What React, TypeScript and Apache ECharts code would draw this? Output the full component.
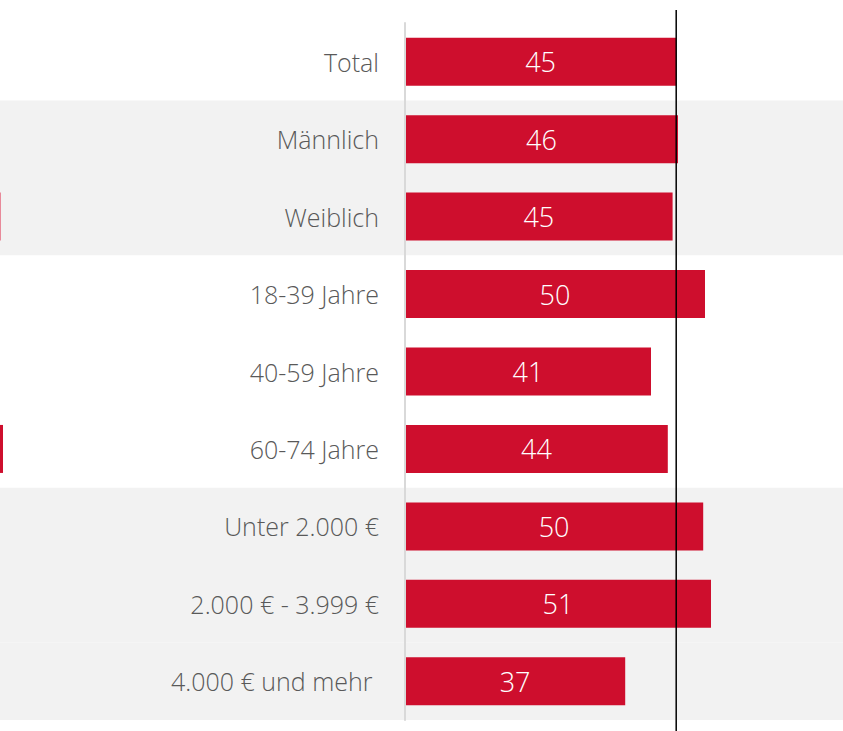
import React, { useEffect, useRef } from "react";
import * as echarts from "echarts";

const categories = [
  "Total",
  "Männlich",
  "Weiblich",
  "18-39 Jahre",
  "40-59 Jahre",
  "60-74 Jahre",
  "Unter 2.000 €",
  "2.000 € - 3.999 €",
  "4.000 € und mehr\u00a0",
];
const values = [45.2, 45.5, 44.6, 50.0, 41.0, 43.8, 49.7, 51.0, 36.7];
const bandFlags = [0, 1, 1, 0, 0, 0, 1, 1, 1];
const referenceValue = 45.2;
const edgeMarks = [
  { category: "Weiblich", width: 1, color: "#e88a9a" },
  { category: "60-74 Jahre", width: 3, color: "#ce0e2d" },
];

const RED = "#ce0e2d";
const FONT = "'Open Sans', 'Noto Sans', sans-serif";

export default function App() {
  const ref = useRef<HTMLDivElement>(null);
  useEffect(() => {
    if (!ref.current) return;
    const chart = echarts.init(ref.current, null, { renderer: "svg" });
    const option: any = {
      animation: false,
      grid: [
        { left: 405, right: 0, top: 23, bottom: 11, containLabel: false },
        { left: 0, right: 0, top: 23, bottom: 11, containLabel: false },
      ],
      xAxis: [
        { gridIndex: 0, type: "value", min: 0, max: 73, show: false },
        { gridIndex: 1, type: "value", min: 0, max: 1, show: false },
      ],
      yAxis: [
        {
          gridIndex: 0,
          type: "category",
          data: categories,
          inverse: true,
          z: 5,
          axisLine: { show: true, lineStyle: { color: "#d9d9d9", width: 2 } },
          axisTick: { show: false },
          axisLabel: {
            margin: 26,
            color: "#595959",
            fontSize: 25,
            fontFamily: FONT,
            fontWeight: 300,
          },
          splitLine: { show: false },
        },
        {
          gridIndex: 1,
          type: "category",
          data: categories,
          inverse: true,
          show: false,
        },
      ],
      series: [
        {
          type: "bar",
          xAxisIndex: 1,
          yAxisIndex: 1,
          data: bandFlags,
          barWidth: "100%",
          silent: true,
          z: -1,
          itemStyle: { color: "#f2f2f2" },
        },
        {
          type: "bar",
          xAxisIndex: 0,
          yAxisIndex: 0,
          data: values,
          barWidth: 48,
          z: 3,
          itemStyle: { color: RED },
          label: {
            show: true,
            position: "inside",
            color: "#ffffff",
            fontSize: 27,
            fontFamily: FONT,
            fontWeight: 300,
            formatter: (p: any) => String(Math.round(p.value)),
          },
        },
      ],
    };
    chart.setOption(option);

    const refX = chart.convertToPixel({ xAxisIndex: 0 }, referenceValue) as number;
    const graphics: any[] = [
      {
        type: "line",
        z: 10,
        shape: { x1: refX, y1: 10, x2: refX, y2: 731 },
        style: { stroke: "#000000", lineWidth: 1.5 },
      },
    ];
    edgeMarks.forEach((m) => {
      const cy = chart.convertToPixel({ yAxisIndex: 0 }, m.category) as number;
      graphics.push({
        type: "rect",
        z: 10,
        shape: { x: 0, y: cy - 24, width: m.width, height: 48 },
        style: { fill: m.color },
      });
    });
    chart.setOption({ graphic: graphics });

    return () => chart.dispose();
  }, []);
  return (
    <div
      ref={ref}
      style={{ position: "fixed", left: 0, top: 0, width: 843, height: 731, background: "#ffffff" }}
    />
  );
}
